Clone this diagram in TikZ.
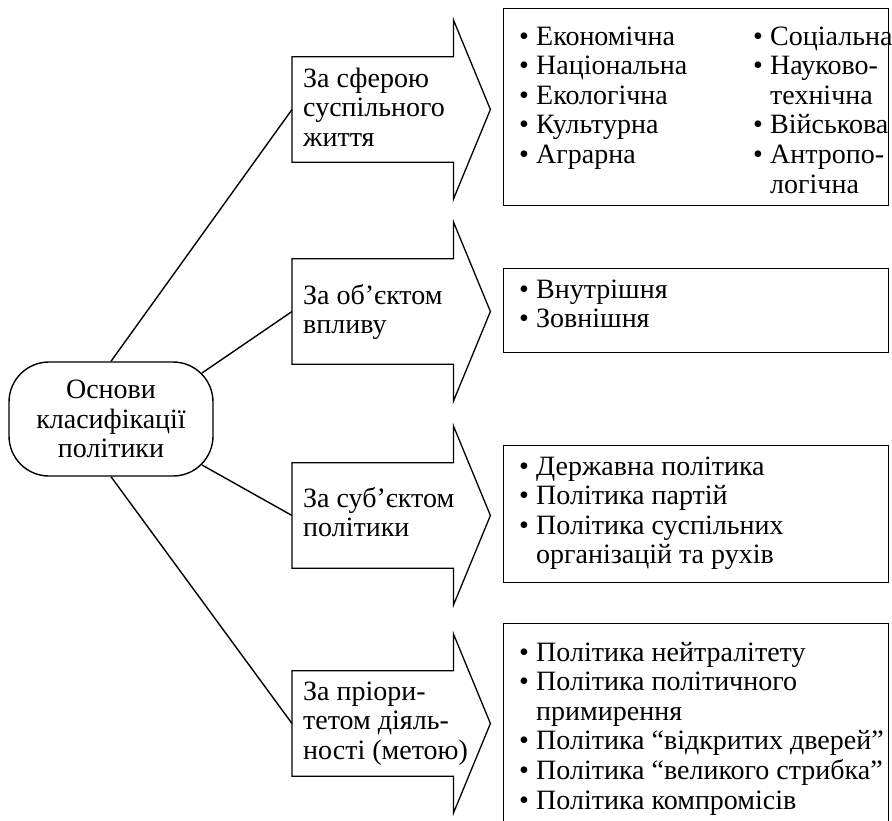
\documentclass[tikz,border=0pt]{standalone}
\usepackage{fontspec}
\setmainfont{Liberation Serif}
\usetikzlibrary{calc}
\newcommand\bul{\makebox[17pt][l]{•}}
\newcommand\ind{\hspace*{17pt}}
\newcommand\blockarrow[1]{%
  \draw[outl] (#1.north west) -- (#1.north east) -- ++(0,-37)
    -- ($(#1.east)+(37,0)$) -- ($(#1.south east)+(0,37)$)
    -- (#1.south east) -- (#1.south west) -- cycle;}
\begin{document}
\begin{tikzpicture}[x=1pt,y=-1pt,
  every node/.style={font=\fontsize{28}{29.6}\selectfont},
  outl/.style={line width=1.3pt, line join=miter},
  conn/.style={line width=1.4pt},
  body/.style={minimum width=161pt, minimum height=105pt, anchor=west, inner sep=0pt},
  lbl/.style={anchor=base west, inner sep=0pt},
  listbox/.style={draw, line width=1.3pt, anchor=north west, minimum width=385pt, inner sep=0pt},
  centrebox/.style={draw, line width=1.4pt, rounded corners=40pt, minimum width=204pt,
    minimum height=114pt, align=center, inner sep=0pt}]
\clip (0,0) rectangle (892,820);

% centre
\node[centrebox] (c) at (111,419) {Основи\\класифікації\\політики};
\coordinate (cne) at ($(c.north east)+(-11.7,11.7)$);
\coordinate (cse) at ($(c.south east)+(-11.7,-11.7)$);

% arrow bodies
\node[body] (b1) at (292,109.5) {};
\node[body] (b2) at (292,311.5) {};
\node[body] (b3) at (292,515.5) {};
\node[body] (b4) at (292,723.5) {};
\blockarrow{b1}
\blockarrow{b2}
\blockarrow{b3}
\blockarrow{b4}

% arrow texts
\node[lbl] (t1) at (303,87) {\begin{tabular}[t]{@{}l@{}}За сферою\\суспільного\\життя\end{tabular}};
\node[lbl] (t2) at (303,304) {\begin{tabular}[t]{@{}l@{}}За об’єктом\\впливу\end{tabular}};
\node[lbl] (t3) at (303,507) {\begin{tabular}[t]{@{}l@{}}За суб’єктом\\політики\end{tabular}};
\node[lbl] (t4) at (303,700) {\begin{tabular}[t]{@{}l@{}}За пріори-\\тетом діяль-\\ності (метою)\end{tabular}};

% connectors
\draw[conn] (c.north) -- (b1.west);
\draw[conn] (cne) -- (b2.west);
\draw[conn] (cse) -- (b3.west);
\draw[conn] (c.south) -- (b4.west);

% list boxes
\node[listbox, minimum height=197pt] (r1) at (503,8) {};
\node[listbox, minimum height=84pt] (r2) at (503,268) {};
\node[listbox, minimum height=137pt] (r3) at (503,445) {};
\node[listbox, minimum height=215pt] (r4) at (503,623) {};

\node[lbl] (l1) at (519,45) {\begin{tabular}[t]{@{}p{234pt}@{}l@{}}
\bul Економічна & \bul Соціальна\\
\bul Національна & \bul Науково-\\
\bul Екологічна & \ind технічна\\
\bul Культурна & \bul Військова\\
\bul Аграрна & \bul Антропо-\\
 & \ind логічна
\end{tabular}};
\node[lbl] (l2) at (519,298) {\begin{tabular}[t]{@{}l@{}}
\bul Внутрішня\\
\bul Зовнішня
\end{tabular}};
\node[lbl] (l3) at (519,475) {\begin{tabular}[t]{@{}l@{}}
\bul Державна політика\\
\bul Політика партій\\
\bul Політика суспільних\\
\ind організацій та рухів
\end{tabular}};
\node[lbl] (l4) at (519,661) {\begin{tabular}[t]{@{}l@{}}
\bul Політика нейтралітету\\
\bul Політика політичного\\
\ind примирення\\
\bul Політика “відкритих дверей”\\
\bul Політика “великого стрибка”\\
\bul Політика компромісів
\end{tabular}};
\end{tikzpicture}
\end{document}
